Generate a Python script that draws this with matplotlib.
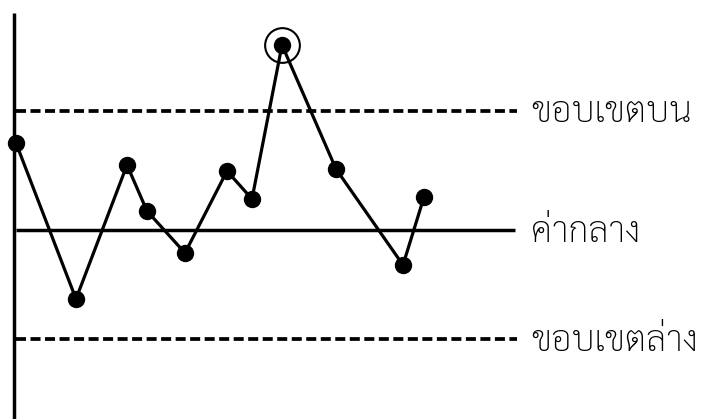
import matplotlib
matplotlib.use('Agg')
import matplotlib.pyplot as plt

# ตำแหน่งจุดข้อมูล (แกนนอน) และค่าที่วัดได้
x_pos = [16, 76, 127, 147, 185, 227, 252, 282, 336, 403, 424]
values = [276, 120, 254, 208, 166, 248, 220, 374, 250, 154, 222]
ucl, cl, lcl = 308, 189, 80
labels = ['ขอบเขตบน', 'ค่ากลาง', 'ขอบเขตล่าง']
out_idx = 7  # จุดที่เกินขอบเขตบน

fig = plt.figure(figsize=(7.05, 4.19), dpi=100)
ax = fig.add_axes([0, 0, 1, 1])
ax.set_xlim(0, 705)
ax.set_ylim(0, 419)
ax.axis('off')

# แกนตั้ง
ax.plot([14, 14], [0, 406], color='black', lw=2.5, solid_capstyle='butt')

# เส้นควบคุม
ax.plot([16, 517], [ucl, ucl], color='black', lw=2.7, dashes=(2.67, 1.2))
ax.plot([16, 515], [cl, cl], color='black', lw=2.5, solid_capstyle='butt')
ax.plot([16, 517], [lcl, lcl], color='black', lw=2.7, dashes=(2.67, 1.2))

ax.plot(x_pos, values, color='black', lw=2.3, marker='o', ms=11.5,
        mfc='black', mec='black', zorder=3)
ax.plot(x_pos[out_idx], values[out_idx], marker='o', ms=25, mfc='none',
        mec='black', mew=1.5, zorder=3)

for lab, yv in zip(labels, [ucl, cl, lcl]):
    ax.text(531, yv - 11.5, lab, fontsize=26, va='baseline', ha='left',
            family=['Sarabun', 'DejaVu Sans'], fontweight='light')

fig.savefig('out.png', dpi=100)
